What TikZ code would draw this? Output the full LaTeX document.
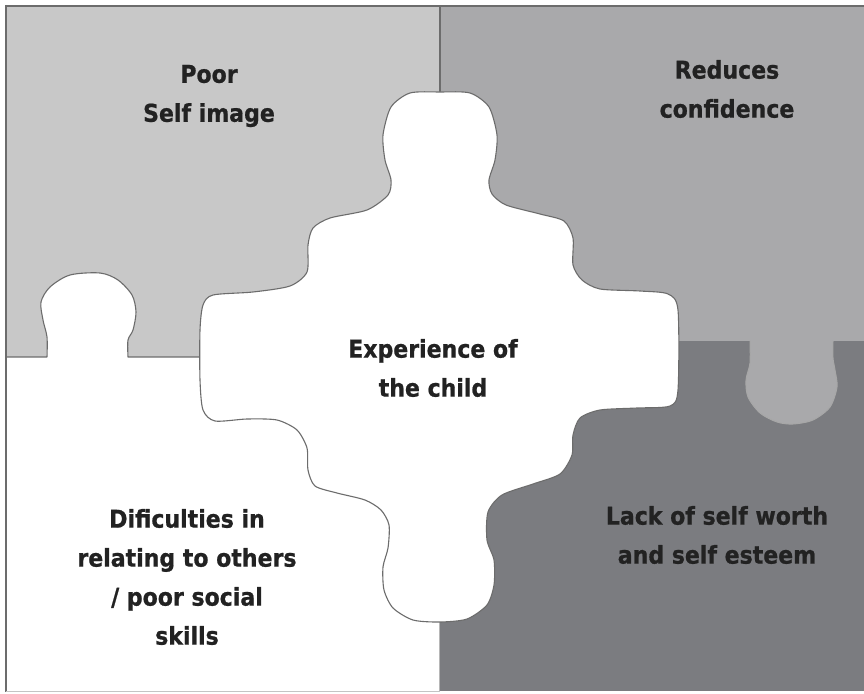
\documentclass[tikz,border=0pt]{standalone}
\usepackage{fontspec}
\usepackage{tikz}
\newfontfamily\lblfont{DejaVu Sans Condensed}[BoldFeatures={FakeBold=0.8}]
\definecolor{lightpiece}{HTML}{C8C8C8}
\definecolor{midpiece}{HTML}{A9A9AB}
\definecolor{darkpiece}{HTML}{7B7C80}
\definecolor{edgegray}{HTML}{6C6C6C}
\definecolor{inkgray}{HTML}{222222}
\tikzstyle{outline} = [draw=edgegray,line width=1.1pt,line join=round]
\tikzstyle{blabel} = [text=inkgray,align=center,font=\lblfont\bfseries\fontsize{24.5}{39}\selectfont]

\begin{document}
\begin{tikzpicture}[x=1pt,y=-1pt]
\useasboundingbox (0,0) rectangle (864,693);
% quarters
\fill[lightpiece] (7,6) rectangle (440,357);
\fill[midpiece]   (440,6) rectangle (864,341);
\fill[darkpiece]  (440,341) rectangle (864,691);
\fill[white]      (7,357) rectangle (440,691);

% knob of the lower left piece
\fill[white] plot[smooth,tension=0.5] coordinates {(47,358) (47,337) (43,320) (41,302) (50,287) (70,275) (100,273) (118,280) (132,295) (136,312) (133,330) (128,340) (128,358)};
\draw[outline] (7,357) -- (47,357) plot[smooth,tension=0.5] coordinates {(47,357) (47,337) (43,320) (41,302) (50,287) (70,275) (100,273) (118,280) (132,295) (136,312) (133,330) (128,340) (128,357)} -- (205,357);

% knob of the upper right piece
\fill[midpiece] plot[smooth,tension=0.5] coordinates {(750,340) (750,363) (746,380) (748,397) (760,413) (777,422) (793,424) (813,420) (830,407) (837,387) (835,370) (833,358) (833,340)};
\draw[edgegray!60,line width=1pt] plot[smooth,tension=0.5] coordinates {(750,341) (750,363) (746,380) (748,397) (760,413) (777,422) (793,424) (813,420) (830,407) (837,387) (835,370) (833,358) (833,341)};

\draw[edgegray,line width=1.2pt] (440,6) -- (440,100);
\draw[edgegray!50,line width=1pt] (439,600) -- (439,691);

% the child piece
\filldraw[outline,fill=white] plot[smooth cycle,tension=0.45] coordinates {
  (440,92) (470,93) (489,107) (497,135) (495,160) (489,180) (492,194) (506,205)
  (540,214) (564,221) (573,238) (573,265) (582,280) (600,289) (640,291) (668,294)
  (678,310) (678,390) (670,406) (637,408) (600,410) (580,418) (573,435) (572,455)
  (560,474) (533,484) (502,495) (488,512) (487,540) (494,560) (494,585) (487,605)
  (467,619) (440,622) (413,620) (393,608) (384,590) (383,567) (388,548) (389,525)
  (381,510) (365,500) (337,493) (315,486) (308,470) (307,448) (297,430) (277,420)
  (247,419) (215,421) (203,410) (200,380) (200,330) (203,305) (213,295) (253,292)
  (290,286) (307,272) (308,245) (313,228) (330,218) (367,210) (388,195) (391,180)
  (385,160) (383,135) (391,107) (410,93)};

% frame
\draw[edgegray,line width=2pt] (6,5) -- (6,692);
\draw[edgegray,line width=2pt] (5,6) -- (864,6);
\draw[edgegray!40,line width=1pt] (6,691) -- (440,691);

% labels
\node[blabel] (poor)     at (209,96)  {Poor\\Self image};
\node[blabel] (reduces)  at (727,89)  {Reduces\\confidence};
\node[blabel] (child)    at (433,368) {Experience of\\the child};
\node[blabel] (relating) at (187,577) {Dificulties in\\relating to others\\/ poor social\\skills};
\node[blabel] (lack)     at (717,535) {Lack of self worth\\and self esteem};
\end{tikzpicture}
\end{document}
